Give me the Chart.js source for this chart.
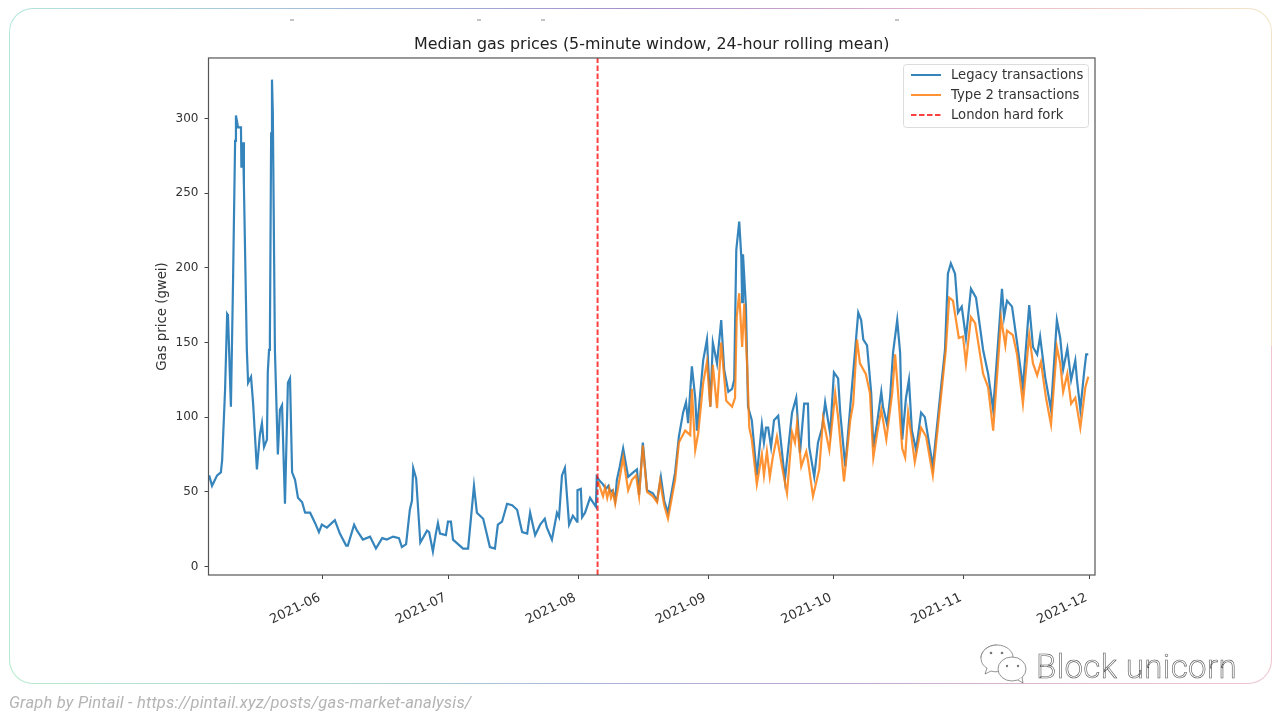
<!DOCTYPE html>
<html>
<head>
<meta charset="utf-8">
<title>Median gas prices</title>
<script src="https://cdn.jsdelivr.net/npm/chart.js@4"></script>
<style>
  html, body { margin: 0; padding: 0; background: #fff; }
  body { position: relative; width: 1280px; height: 720px; overflow: hidden; }
  #frame {
    position: absolute; left: 9px; top: 8px; width: 1261px; height: 674px;
    border: 1.5px solid transparent; border-radius: 24px;
    background:
      linear-gradient(#fff, #fff) padding-box,
      linear-gradient(90deg, #b4e6dc 0%, #9fb4d8 30%, #a58fcb 50%, #c9a0cc 62%, #eabccb 78%, #f3e6c8 100%) top / 100% 50% no-repeat border-box,
      linear-gradient(90deg, #b6ebcf 0%, #b0d4d4 28%, #a9b6d8 45%, #bda8d2 65%, #e2bccd 85%, #efc6cf 100%) bottom / 100% 50% no-repeat border-box;
  }
  canvas { position: absolute; left: 0; top: 0; filter: blur(0.4px); }
  .speck { position: absolute; top: 19px; width: 4px; height: 2px; background: #c4c4c4; }
  #credit {
    position: absolute; left: 9px; top: 693px;
    font: italic 16.5px Roboto, sans-serif; color: #b4b4b4; letter-spacing: 0.2px;
  }
  #mark {
    position: absolute; left: 1036px; top: 647px;
    font: 300 33px Roboto, sans-serif; line-height: 40px; color: #fff;
    -webkit-text-stroke: 0.6px #555; letter-spacing: 0.4px;
  }
  #wechat { position: absolute; left: 978px; top: 642px; }
</style>
</head>
<body>
<div id="frame"></div>
<div class="speck" style="left:290px"></div>
<div class="speck" style="left:477px"></div>
<div class="speck" style="left:541px"></div>
<div class="speck" style="left:895px"></div>
<canvas id="chart" width="1280" height="720"></canvas>
<svg id="wechat" width="54" height="44" viewBox="0 0 54 44">
  <path d="M19 3c-9 0-16 6-16 13 0 4 2 8 6 10l-2 6 6-3c3 1 6 1 9 0" fill="#fff" stroke="#666" stroke-width="0.7"/>
  <path d="M3 16C3 9 10 3 19 3s16 6 16 12" fill="#fff" stroke="#666" stroke-width="0.7"/>
  <ellipse cx="34" cy="27" rx="14" ry="12" fill="#fff" stroke="#666" stroke-width="0.7"/>
  <path d="M40 38l5 3-1-6" fill="#fff" stroke="#666" stroke-width="0.7"/>
  <circle cx="13" cy="11" r="1.3" fill="#777"/><circle cx="24" cy="11" r="1.3" fill="#777"/>
  <circle cx="29" cy="24" r="1.2" fill="#777"/><circle cx="40" cy="24" r="1.2" fill="#777"/>
</svg>
<div id="mark">Block unicorn</div>
<div id="credit">Graph by Pintail - https://pintail.xyz/posts/gas-market-analysis/</div>

<script>
// x values are days counted from 2021-05-01
var legacyDays = [3.9,4.6,5.8,6.7,7.0,7.7,8.2,8.4,9.1,9.6,10.1,10.3,10.8,11.5,11.6,12.0,12.2,12.9,13.2,13.9,14.4,15.3,16.0,16.5,17.0,17.7,17.9,18.2,18.4,18.7,18.9,19.1,19.6,20.3,20.8,21.3,22.0,22.7,23.2,23.7,24.4,25.1,26.1,26.8,28.0,29.2,30.1,30.8,32.0,33.9,35.1,36.6,37.0,38.5,39.2,40.6,42.3,43.7,45.2,46.3,47.8,49.2,49.9,50.9,51.8,52.3,52.6,53.3,54.3,55.9,56.4,57.3,58.0,58.5,59.0,60.4,60.9,61.6,62.1,64.5,65.7,67.1,67.8,69.3,70.9,72.1,72.8,73.8,75.0,76.2,77.4,78.6,79.8,80.5,81.7,82.9,84.0,84.5,85.7,86.9,87.4,88.1,88.8,89.8,90.7,91.7,91.8,92.6,92.9,93.6,94.8,96.2,96.4,97.2,97.9,98.6,99.2,99.6,100.2,100.8,101.2,101.9,102.7,103.9,105.1,106.0,106.5,107.4,108.4,109.8,110.8,111.7,112.5,113.4,115.1,116.0,117.0,117.7,118.2,119.1,119.9,120.3,121.0,121.8,122.7,123.5,124.1,125.1,126.1,126.8,127.8,128.7,129.2,129.7,130.4,130.9,131.1,131.3,132.0,132.5,133.4,134.6,135.8,136.3,136.8,137.3,138.0,138.7,139.7,141.3,143.0,144.0,144.9,145.9,146.8,147.1,148.3,149.2,150.2,150.9,152.1,153.0,154.0,154.5,155.7,156.9,158.0,158.8,159.5,160.0,160.9,161.9,162.4,163.3,164.3,164.7,165.7,166.4,167.1,168.1,168.8,169.3,170.2,170.9,171.6,172.6,173.8,174.7,176.6,178.3,179.5,180.2,180.9,181.9,182.6,183.5,184.5,185.7,186.9,188.6,189.8,191.0,193.1,193.6,194.3,195.5,196.7,198.1,199.6,200.5,201.5,202.2,203.4,204.8,206.2,207.0,207.7,208.7,209.6,210.6,211.0,211.8,212.7,213.2,213.7];
var legacyGas = [61,54,61,63,71,118,169,168,107,190,285,302,294,294,267,284,255,145,123,127,109,65,88,96,80,85,130,145,152,290,326,304,145,75,105,108,42,123,126,63,58,46,43,36,36,29,23,28,26,31,22,14,14,28,24,18,20,12,19,18,20,19,13,15,38,44,66,59,16,24,23,10,22,29,22,21,30,30,18,12,12,54,36,32,13,12,28,30,42,41,38,23,22,36,21,28,32,26,18,36,33,61,66,28,34,30,51,52,33,36,46,40,60,57,55,52,54,50,51,44,58,67,79,60,63,65,48,83,51,49,44,60,44,36,63,87,103,110,96,134,113,91,113,138,152,107,150,136,165,132,117,119,125,212,231,207,177,209,174,107,98,61,95,83,93,93,80,98,101,58,103,113,76,109,109,80,60,83,93,110,89,130,126,103,67,107,143,170,165,152,148,116,80,96,117,107,95,113,143,165,143,85,113,125,91,78,103,100,67,113,145,196,203,196,170,174,153,186,180,145,129,105,186,167,178,174,150,120,175,147,142,154,127,105,165,153,132,146,125,138,125,105,130,142,142];
var type2Days = [96.7,97.3,97.9,98.4,98.9,99.4,99.8,100.3,100.8,101.5,102.7,103.9,104.8,105.8,106.5,107.4,108.4,109.8,110.8,111.5,112.5,113.4,115.1,116.0,117.5,118.7,119.1,119.9,120.6,121.8,122.7,123.5,124.1,125.1,126.1,127.3,128.7,129.4,129.8,130.4,131.1,131.6,132.3,132.8,133.4,134.6,135.8,136.3,137.0,137.7,138.4,139.4,140.6,141.8,143.0,143.7,144.2,145.2,146.4,146.8,148.0,149.5,150.4,151.9,153.3,154.0,155.4,156.9,157.6,158.5,159.2,160.6,161.6,162.4,163.3,164.3,165.5,166.9,167.6,168.1,169.3,170.0,170.7,171.6,172.3,173.8,175.0,176.6,178.3,179.7,180.5,181.4,182.8,183.8,184.5,185.7,186.7,188.6,189.8,191.0,192.9,193.9,194.3,195.7,196.7,198.1,199.6,200.5,201.5,202.4,203.6,204.8,206.2,207.0,207.7,208.7,209.6,210.6,211.8,213.0,213.7];
var type2Gas = [57,52,47,53,46,52,46,50,42,53,73,51,58,61,47,81,50,47,43,57,41,32,58,83,91,88,119,78,89,123,137,107,135,106,150,111,107,113,167,183,147,176,134,93,85,55,75,61,77,60,73,87,67,49,90,83,96,67,77,71,47,65,99,78,116,100,57,98,109,152,136,129,116,73,89,105,85,116,142,124,79,73,103,85,70,93,87,61,107,145,180,178,153,154,136,167,163,129,120,91,166,148,158,155,142,109,155,136,128,137,113,95,147,136,117,129,109,113,93,120,127];
var forkDay = 96.6;

var xTickDays = [31,61,92,123,153,184,214];
var xTickLabels = ['2021-06','2021-07','2021-08','2021-09','2021-10','2021-11','2021-12'];
var yTickValues = [0,50,100,150,200,250,300];
var seriesLabels = ['Legacy transactions','Type 2 transactions','London hard fork'];

var xMin = 3.75, xMax = 215.3;
var yMin = -5.7, yMax = 340.5;

var BLUE = 'rgba(31,119,180,0.9)';
var ORANGE = 'rgba(255,127,14,0.85)';
var RED = 'rgba(255,0,0,0.75)';
var INK = '#333';

function toPoints(xs, ys) {
  return xs.map(function(x, i) { return { x: x, y: ys[i] }; });
}

// Plot outline and the matplotlib style legend box
var boxAndLegend = {
  id: 'boxAndLegend',
  afterDraw: function(chart) {
    var ctx = chart.ctx, a = chart.chartArea;
    ctx.save();
    ctx.strokeStyle = '#555';
    ctx.lineWidth = 1.2;
    ctx.strokeRect(a.left, a.top, a.right - a.left, a.bottom - a.top);

    var bx = 903.5, by = 64.5, bw = 185, bh = 63;
    ctx.beginPath();
    ctx.roundRect(bx, by, bw, bh, 3);
    ctx.fillStyle = 'rgba(255,255,255,0.8)';
    ctx.fill();
    ctx.strokeStyle = '#dcdcdc';
    ctx.lineWidth = 1;
    ctx.stroke();

    var colors = [BLUE, ORANGE, RED];
    ctx.font = '13.2px "DejaVu Sans"';
    ctx.textBaseline = 'middle';
    seriesLabels.forEach(function(label, i) {
      var y = by + 10.5 + i * 20;
      ctx.beginPath();
      ctx.setLineDash(i === 2 ? [5.5, 2.5] : []);
      ctx.strokeStyle = colors[i];
      ctx.lineWidth = 2;
      ctx.moveTo(bx + 7.5, y);
      ctx.lineTo(bx + 37.5, y);
      ctx.stroke();
      ctx.setLineDash([]);
      ctx.fillStyle = INK;
      ctx.fillText(label, bx + 47.5, y + 0.5);
    });
    ctx.restore();
  }
};

new Chart(document.getElementById('chart').getContext('2d'), {
  type: 'line',
  data: {
    datasets: [
      { label: seriesLabels[0], data: toPoints(legacyDays, legacyGas), borderColor: BLUE, borderWidth: 2.2, order: 3 },
      { label: seriesLabels[1], data: toPoints(type2Days, type2Gas), borderColor: ORANGE, borderWidth: 2.2, order: 2 },
      { label: seriesLabels[2], data: toPoints([forkDay, forkDay], [yMin, yMax]), borderColor: RED, borderWidth: 2, borderDash: [5.5, 2.5], order: 1 }
    ]
  },
  plugins: [boxAndLegend],
  options: {
    responsive: false,
    animation: false,
    events: [],
    elements: { point: { radius: 0 }, line: { tension: 0 } },
    layout: { padding: { left: 154.5, right: 185, top: 35.5, bottom: 0 } },
    plugins: {
      legend: { display: false },
      tooltip: { enabled: false },
      title: {
        display: true,
        fullSize: false,
        text: 'Median gas prices (5-minute window, 24-hour rolling mean)',
        color: '#222',
        font: { family: '"DejaVu Sans"', size: 15.9, weight: 'normal' },
        padding: { top: 0, bottom: 3.4 }
      }
    },
    scales: {
      x: {
        type: 'linear',
        min: xMin,
        max: xMax,
        afterBuildTicks: function(scale) {
          scale.ticks = xTickDays.map(function(v) { return { value: v }; });
        },
        afterFit: function(scale) { scale.height = 145; },
        border: { display: false },
        grid: { drawOnChartArea: false, drawTicks: true, tickLength: 4, color: '#444' },
        ticks: {
          autoSkip: false,
          minRotation: 26,
          maxRotation: 26,
          padding: 11,
          labelOffset: -3,
          color: INK,
          font: { family: '"DejaVu Sans"', size: 13 },
          callback: function(v) { return xTickLabels[xTickDays.indexOf(v)]; }
        }
      },
      y: {
        type: 'linear',
        min: yMin,
        max: yMax,
        afterBuildTicks: function(scale) {
          scale.ticks = yTickValues.map(function(v) { return { value: v }; });
        },
        afterFit: function(scale) { scale.width = 54; },
        border: { display: false },
        grid: { drawOnChartArea: false, drawTicks: true, tickLength: 4, color: '#444' },
        title: {
          display: true,
          text: 'Gas price (gwei)',
          color: INK,
          font: { family: '"DejaVu Sans"', size: 13.3 },
          padding: { top: 0, bottom: 0 }
        },
        ticks: {
          padding: 6,
          color: INK,
          font: { family: '"DejaVu Sans"', size: 12 },
          callback: function(v) { return String(v); }
        }
      }
    }
  }
});
</script>
</body>
</html>
